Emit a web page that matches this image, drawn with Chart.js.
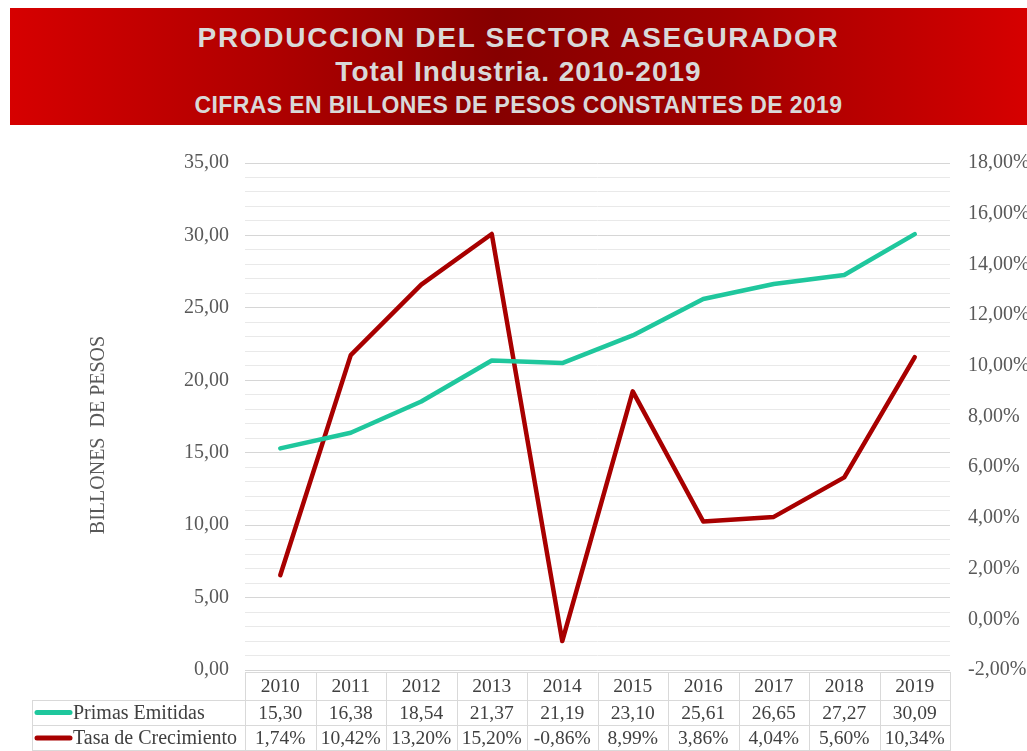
<!DOCTYPE html>
<html>
<head>
<meta charset="utf-8">
<script src="https://cdn.jsdelivr.net/npm/chart.js@4.4.1/dist/chart.umd.min.js"></script>
<style>
  html, body { margin: 0; padding: 0; background: #fff; }
  body { width: 1027px; height: 751px; position: relative; overflow: hidden; }
  #banner {
    position: absolute; left: 10px; top: 8px; width: 1017px; height: 117px;
    background: linear-gradient(to right, #d60000 0%, #b00000 25%, #860000 48%, #a00000 70%, #d60000 100%);
    color: #d9d9d9; font-family: 'Liberation Sans', Arial, sans-serif; font-weight: bold;
  }
  #banner div { position: absolute; left: 0; right: 0; white-space: nowrap; text-align: center; line-height: 1; }
  #t1 { top: 16px; font-size: 28px; letter-spacing: 1.7px; }
  #t2 { top: 50px; font-size: 28px; letter-spacing: 1px; }
  #t3 { top: 86px; font-size: 23px; letter-spacing: 0.4px; }
  #chart { position: absolute; left: 0; top: 0; }
</style>
</head>
<body>
<canvas id="chart" width="1027" height="751"></canvas>
<div id="banner">
  <div id="t1">PRODUCCION DEL SECTOR ASEGURADOR</div>
  <div id="t2">Total Industria. 2010-2019</div>
  <div id="t3">CIFRAS EN BILLONES DE PESOS CONSTANTES DE 2019</div>
</div>
<script>
// ---- data ----
const years = ['2010', '2011', '2012', '2013', '2014', '2015', '2016', '2017', '2018', '2019'];
const primas = [15.30, 16.38, 18.54, 21.37, 21.19, 23.10, 25.61, 26.65, 27.27, 30.09];
const tasa = [1.74, 10.42, 13.20, 15.20, -0.86, 8.99, 3.86, 4.04, 5.60, 10.34];
const seriesNames = ['Primas Emitidas', 'Tasa de Crecimiento'];

const GREEN = '#1fc79d';
const RED = '#a80000';
const TXT = '#595959';
const SERIF = "'Liberation Serif', 'Times New Roman', serif";

const fmt = (v) => v.toFixed(2).replace('.', ',');

// y axis title + data table under the plot
const tablePlugin = {
  id: 'dataTable',
  afterDraw(chart) {
    const { ctx, chartArea: a, scales: { x } } = chart;
    const colW = a.width / years.length;
    const top = 672, r1 = 700, r2 = 725, bot = 751;
    const leftX = 32;

    ctx.save();
    // axis title
    ctx.translate(99, 435);
    ctx.rotate(-Math.PI / 2);
    ctx.fillStyle = TXT;
    ctx.font = '20px ' + SERIF;
    ctx.textAlign = 'center';
    ctx.textBaseline = 'middle';
    ctx.fillText('BILLONES  DE PESOS', 0, 0);
    ctx.restore();

    ctx.save();
    ctx.strokeStyle = '#d9d9d9';
    ctx.lineWidth = 1;
    ctx.beginPath();
    // horizontal lines
    ctx.moveTo(a.left, top + 0.5); ctx.lineTo(a.right, top + 0.5);
    ctx.moveTo(leftX, r1 + 0.5); ctx.lineTo(a.right, r1 + 0.5);
    ctx.moveTo(leftX, r2 + 0.5); ctx.lineTo(a.right, r2 + 0.5);
    ctx.moveTo(leftX, bot - 0.5); ctx.lineTo(a.right, bot - 0.5);
    // vertical lines
    ctx.moveTo(leftX + 0.5, r1); ctx.lineTo(leftX + 0.5, bot);
    for (let i = 0; i <= years.length; i++) {
      const xx = Math.round(a.left + i * colW) + 0.5;
      ctx.moveTo(xx, top); ctx.lineTo(xx, bot);
    }
    ctx.stroke();

    ctx.font = '19.5px ' + SERIF;
    ctx.fillStyle = '#404040';
    ctx.textBaseline = 'middle';
    ctx.textAlign = 'center';
    years.forEach((y, i) => {
      const cx = x.getPixelForValue(i);
      ctx.fillText(y, cx, (top + r1) / 2 + 1);
      ctx.fillText(fmt(primas[i]), cx, (r1 + r2) / 2 + 1);
      ctx.fillText(fmt(tasa[i]) + '%', cx, (r2 + bot) / 2 + 1);
    });

    // legend keys + series names
    ctx.textAlign = 'left';
    ctx.lineCap = 'round';
    ctx.lineWidth = 5;
    ctx.font = '20px ' + SERIF;
    [[GREEN, (r1 + r2) / 2], [RED, (r2 + bot) / 2]].forEach(([c, yy], k) => {
      ctx.strokeStyle = c;
      ctx.beginPath();
      ctx.moveTo(37, yy); ctx.lineTo(70, yy);
      ctx.stroke();
      ctx.fillText(seriesNames[k], 73, yy + 1);
    });
    ctx.restore();
  }
};

new Chart(document.getElementById('chart').getContext('2d'), {
  type: 'line',
  data: {
    labels: years,
    datasets: [
      {
        label: seriesNames[0],
        data: primas,
        borderColor: GREEN,
        backgroundColor: GREEN,
        borderWidth: 4.5,
        pointRadius: 0,
        tension: 0,
        borderCapStyle: 'round',
        borderJoinStyle: 'round',
        yAxisID: 'y',
      },
      {
        label: seriesNames[1],
        data: tasa,
        borderColor: RED,
        backgroundColor: RED,
        borderWidth: 4.5,
        pointRadius: 0,
        tension: 0,
        borderCapStyle: 'round',
        borderJoinStyle: 'round',
        yAxisID: 'y1',
      }
    ]
  },
  options: {
    responsive: false,
    animation: false,
    devicePixelRatio: 1,
    layout: { padding: { top: 163, bottom: 81, left: 0, right: 0 } },
    plugins: { legend: { display: false }, tooltip: { enabled: false }, title: { display: false } },
    scales: {
      x: { display: false, offset: true },
      y: {
        position: 'left',
        min: 0, max: 35,
        afterFit: (s) => { s.width = 245; },
        border: { display: false },
        grid: {
          drawTicks: false,
          color: (c) => (c.tick && c.tick.value % 5 === 0) ? '#d6d6d6' : '#e9e9e9',
        },
        ticks: {
          stepSize: 1,
          autoSkip: false,
          padding: 16,
          color: TXT,
          font: { family: SERIF, size: 20 },
          callback: (v) => (v % 5 === 0 ? fmt(v) : ''),
        }
      },
      y1: {
        position: 'right',
        min: -2, max: 18,
        afterFit: (s) => { s.width = 77; },
        border: { display: false },
        grid: { drawOnChartArea: false, drawTicks: false },
        ticks: {
          stepSize: 2,
          autoSkip: false,
          padding: 18,
          color: TXT,
          font: { family: SERIF, size: 20 },
          callback: (v) => fmt(v) + '%',
        }
      }
    }
  },
  plugins: [tablePlugin]
});
</script>
</body>
</html>
